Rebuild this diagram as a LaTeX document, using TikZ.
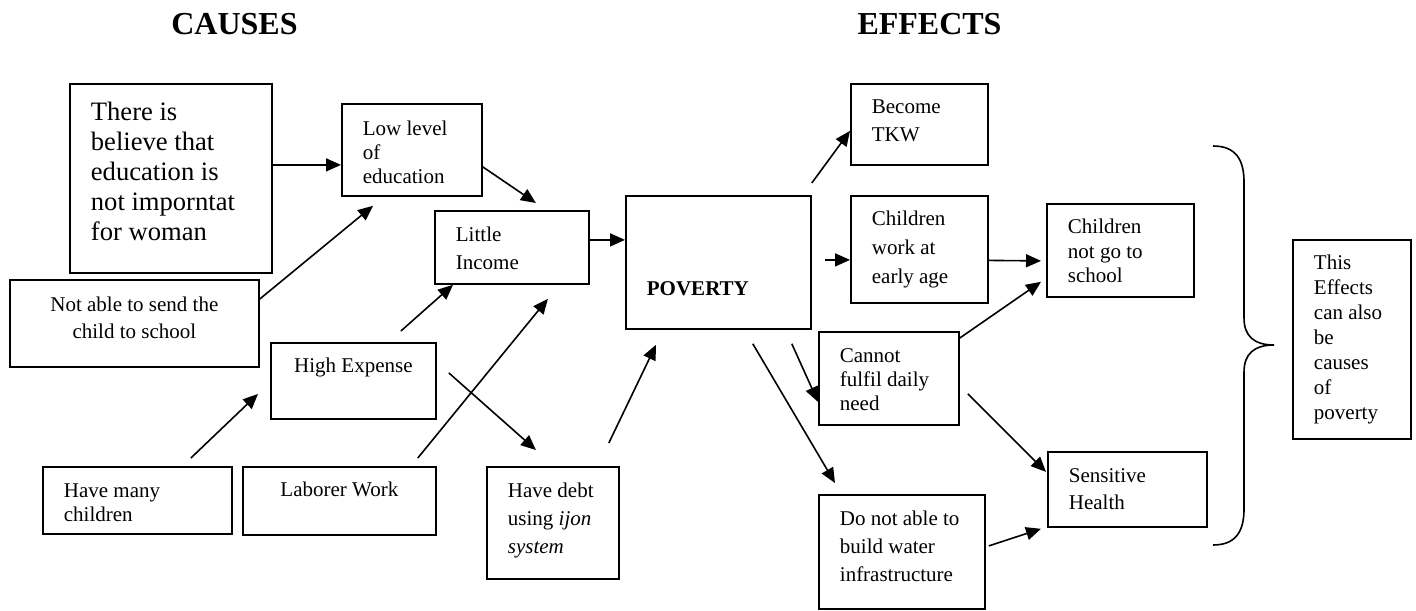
\documentclass[tikz,border=0pt]{standalone}
\usepackage{fontspec}
\setmainfont{Liberation Serif}
\usetikzlibrary{arrows.meta}
\newcommand{\boxtext}[5][15.5pt]{\parbox[t][#3][t]{#2}{\raggedright\baselineskip=#4\relax\rule{0pt}{#1}#5}}

\begin{document}
\begin{tikzpicture}[x=0.5pt,y=-0.5pt,
  font=\fontsize{10.5}{12}\selectfont,
  cbox/.style={draw,line width=0.9pt,anchor=north west,inner xsep=10.5pt,inner ysep=0pt},
  arr/.style={-{Triangle[length=7.5pt,width=6.5pt]},line width=0.8pt},
  heading/.style={anchor=base,font=\fontsize{16}{19}\selectfont\bfseries}]
\useasboundingbox (0,0) rectangle (1416,610);

\node[heading] (causes) at (234.5,35) {CAUSES};
\node[heading] (effects) at (929.5,35) {EFFECTS};

% causes
\node[cbox,font=\fontsize{13.3}{15}\selectfont] (belief) at (69,83) {\boxtext[18.5pt]{80pt}{94.5pt}{15pt}{There is\\believe that\\education is\\not imporntat\\for woman}};
\node[cbox] (low) at (341,103) {\boxtext[16pt]{49pt}{46pt}{12pt}{Low level\\of\\education}};
\node[cbox] (income) at (434,210) {\boxtext{56pt}{36.5pt}{14pt}{Little\\Income}};
\node[cbox] (notable) at (9,279) {\boxtext[16pt]{103.5pt}{43.5pt}{13.5pt}{\centering Not able to send the\\child to school}};
\node[cbox] (expense) at (270,342) {\boxtext[15pt]{61.5pt}{38pt}{12pt}{\centering High Expense}};
\node[cbox] (many) at (42,466) {\boxtext{73.5pt}{33.5pt}{12pt}{Have many\\children}};
\node[cbox] (laborer) at (242,466) {\boxtext[15pt]{75.5pt}{34pt}{12pt}{\centering Laborer Work}};
\node[cbox] (debt) at (486,466) {\boxtext{45pt}{56pt}{14pt}{Have debt\\using \textit{ijon}\\\textit{system}}};

% poverty and effects
\node[cbox] (poverty) at (625,195) {\boxtext[50pt]{71.5pt}{66.5pt}{12pt}{\textbf{POVERTY}}};
\node[cbox] (tkw) at (850,83) {\boxtext[15pt]{47.5pt}{40.5pt}{14pt}{Become\\TKW}};
\node[cbox] (work) at (850,195) {\boxtext[15pt]{47.5pt}{53.5pt}{14.5pt}{Children\\work at\\early age}};
\node[cbox] (school) at (1046,203) {\boxtext[15pt]{52.5pt}{46.5pt}{12.25pt}{Children\\not go to\\school}};
\node[cbox] (fulfil) at (818,331) {\boxtext{49pt}{46.5pt}{12pt}{Cannot\\fulfil daily\\need}};
\node[cbox] (water) at (818,494) {\boxtext{62pt}{57pt}{14pt}{Do not able to\\build water\\infrastructure}};
\node[cbox] (health) at (1047,451) {\boxtext{58.5pt}{37.5pt}{13.5pt}{Sensitive\\Health}};
\node[cbox] (note) at (1292,239) {\boxtext[15pt]{38pt}{99.5pt}{12.5pt}{This\\Effects\\can also\\be\\causes\\of\\poverty}};

\draw[arr] ([yshift=6.75pt]belief.east) -- ([yshift=-7.5pt]low.west);
\draw[arr] ([yshift=-10pt]notable.north east) -- ([xshift=16pt,yshift=-4.5pt]low.south west);
\draw[arr] ([yshift=-8.5pt]low.east) -- ([xshift=12pt,yshift=3.5pt]income.north);
\draw[arr] ([yshift=3.75pt]income.east) -- ([yshift=11.25pt]poverty.west);
\draw[arr] ([xshift=23.75pt,yshift=5.5pt]expense.north) -- ([xshift=9.5pt]income.south west);
\draw[arr] ([xshift=-9.5pt,yshift=4pt]laborer.north east) -- ([xshift=18pt,yshift=-7pt]income.south);
\draw[arr] ([xshift=26.75pt,yshift=4pt]many.north) -- ([xshift=-6pt,yshift=-6.5pt]expense.west);
\draw[arr] ([xshift=6pt,yshift=4pt]expense.east) -- ([xshift=-8.5pt,yshift=8pt]debt.north);
\draw[arr] ([xshift=-5.5pt,yshift=11.5pt]debt.north east) -- ([xshift=15.5pt,yshift=-7.5pt]poverty.south west);
\draw[arr] ([yshift=6pt]poverty.north east) -- ([yshift=-3.25pt]tkw.west);
\draw[arr] ([xshift=6.5pt,yshift=1.25pt]poverty.east) -- ([yshift=-5.25pt]work.west);
\draw[arr] ([yshift=-5.5pt]work.east) -- ([xshift=-2.5pt,yshift=-5.25pt]school.west);
\draw[arr] ([yshift=-3.5pt]fulfil.north east) -- ([xshift=-2.5pt,yshift=8pt]school.south west);
\draw[arr] ([xshift=-10pt,yshift=-7pt]poverty.south east) -- ([yshift=-11.75pt]fulfil.west);
\draw[arr] ([xshift=-29.5pt,yshift=-7pt]poverty.south east) -- ([xshift=8.5pt,yshift=5.5pt]water.north west);
\draw[arr] ([xshift=4pt,yshift=-7.75pt]fulfil.east) -- ([xshift=-0.5pt,yshift=8.75pt]health.west);
\draw[arr] ([xshift=1.5pt,yshift=3pt]water.east) -- ([xshift=-3pt,yshift=-0.5pt]health.south west);

% brace
\draw[line width=0.8pt] (1213,146) .. controls (1236,146) and (1244,160) .. (1244,182) -- (1244,318)
  .. controls (1244,336) and (1254,345) .. (1274,345) .. controls (1254,345) and (1244,354) .. (1244,372)
  -- (1244,509) .. controls (1244,531) and (1236,545) .. (1213,545);
\end{tikzpicture}
\end{document}
